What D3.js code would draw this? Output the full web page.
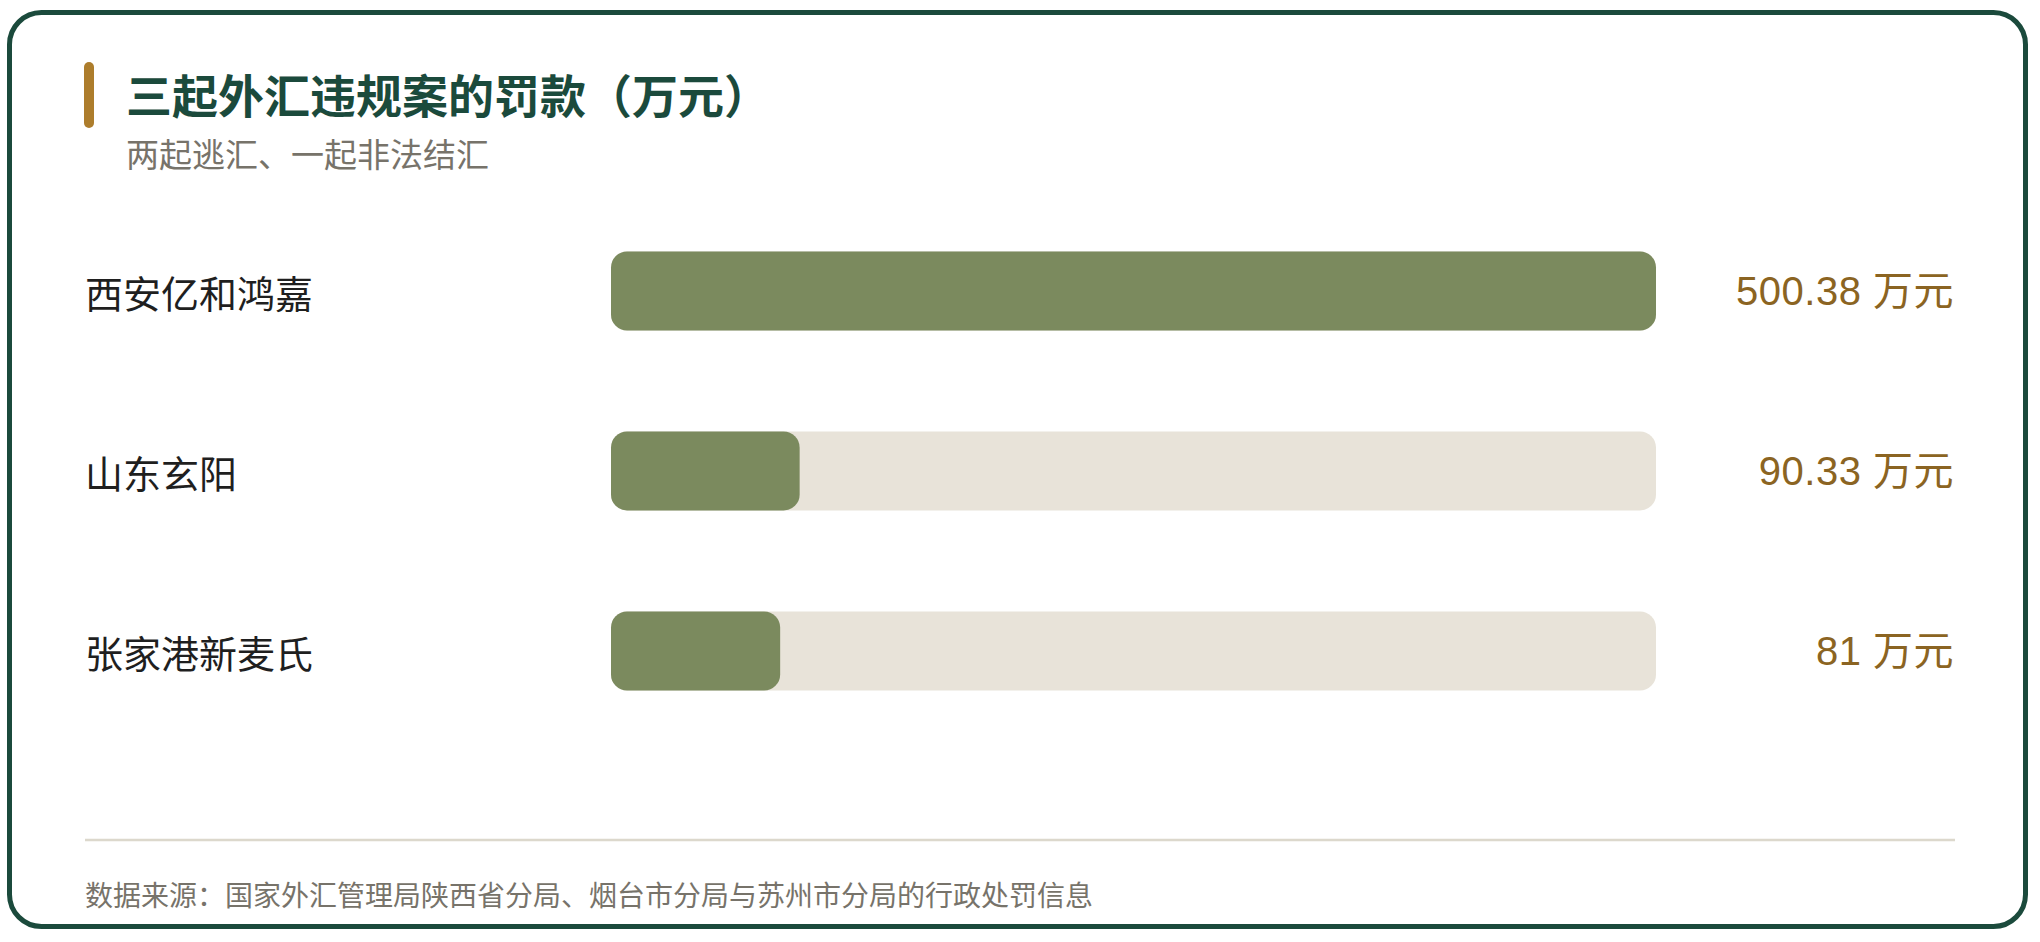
<!DOCTYPE html>
<html lang="zh">
<head>
<meta charset="UTF-8"/>
<title>三起外汇违规案的罚款</title>
<script src="https://d3js.org/d3.v7.min.js"></script>
<style>
	body { margin: 0; background: #fff; }
	text { font-family: "Noto Sans CJK SC", "Noto Sans", sans-serif; }
	.title { fill: #1b4a3c; font-size: 46px; font-weight: 600; }
	.subtitle { fill: #77736a; font-size: 33px; }
	.label { fill: #1f1f1f; font-size: 38px; }
	.value { fill: #8b6422; font-size: 40px; font-family: "Liberation Sans", "Noto Sans CJK SC", sans-serif; letter-spacing: 0.5px; }
	.source { fill: #77736a; font-size: 28px; }
</style>
</head>
<body>
<div id="chart"></div>
<script>
	var w = 2040;
	var h = 942;

	var companies = ["西安亿和鸿嘉", "山东玄阳", "张家港新麦氏"];
	var fines = [500.38, 90.33, 81];
	var unit = "万元";

	var title = "三起外汇违规案的罚款（万元）";
	var subtitle = "两起逃汇、一起非法结汇";
	var source = "数据来源：国家外汇管理局陕西省分局、烟台市分局与苏州市分局的行政处罚信息";

	var svg = d3.select("#chart")
		.append("svg")
		.attr("width", w)
		.attr("height", h);

	// card frame
	svg.append("rect")
		.attr("x", 9.5)
		.attr("y", 12.5)
		.attr("width", 2016)
		.attr("height", 914)
		.attr("rx", 32)
		.attr("fill", "#fff")
		.attr("stroke", "#1b4a3c")
		.attr("stroke-width", 5);

	// accent mark + titles
	svg.append("rect")
		.attr("x", 84)
		.attr("y", 62)
		.attr("width", 10)
		.attr("height", 66)
		.attr("rx", 5)
		.attr("fill", "#ad7d2c");

	svg.append("text")
		.attr("class", "title")
		.attr("x", 126)
		.attr("y", 93)
		.attr("dominant-baseline", "central")
		.text(title);

	svg.append("text")
		.attr("class", "subtitle")
		.attr("x", 126)
		.attr("y", 153)
		.attr("dominant-baseline", "central")
		.text(subtitle);

	var xScale = d3.scaleLinear()
		.domain([0, d3.max(fines)])
		.range([611, 1656]);

	var yScale = d3.scalePoint()
		.domain(companies)
		.range([291, 651]);

	var barH = 79;

	var rows = svg.selectAll(".row")
		.data(companies.map(function(c, i) { return { name: c, value: fines[i] }; }))
		.enter()
		.append("g")
		.attr("class", "row");

	// track
	rows.append("rect")
		.attr("x", xScale(0))
		.attr("y", function(d) { return yScale(d.name) - barH / 2; })
		.attr("width", xScale.range()[1] - xScale(0))
		.attr("height", barH)
		.attr("rx", 16)
		.attr("fill", "#e8e3d9");

	// value bar
	rows.append("rect")
		.attr("x", xScale(0))
		.attr("y", function(d) { return yScale(d.name) - barH / 2; })
		.attr("width", function(d) { return xScale(d.value) - xScale(0); })
		.attr("height", barH)
		.attr("rx", 16)
		.attr("fill", "#7b8a5e");

	rows.append("text")
		.attr("class", "label")
		.attr("x", 85)
		.attr("y", function(d) { return yScale(d.name); })
		.attr("dominant-baseline", "central")
		.text(function(d) { return d.name; });

	rows.append("text")
		.attr("class", "value")
		.attr("x", 1954)
		.attr("y", function(d) { return yScale(d.name); })
		.attr("dominant-baseline", "central")
		.attr("text-anchor", "end")
		.text(function(d) { return d.value + " " + unit; });

	// divider + source
	svg.append("line")
		.attr("x1", 85)
		.attr("x2", 1955)
		.attr("y1", 840)
		.attr("y2", 840)
		.attr("stroke", "#dcd8cc")
		.attr("stroke-width", 2.5);

	svg.append("text")
		.attr("class", "source")
		.attr("x", 85)
		.attr("y", 894)
		.attr("dominant-baseline", "central")
		.text(source);
</script>
</body>
</html>
